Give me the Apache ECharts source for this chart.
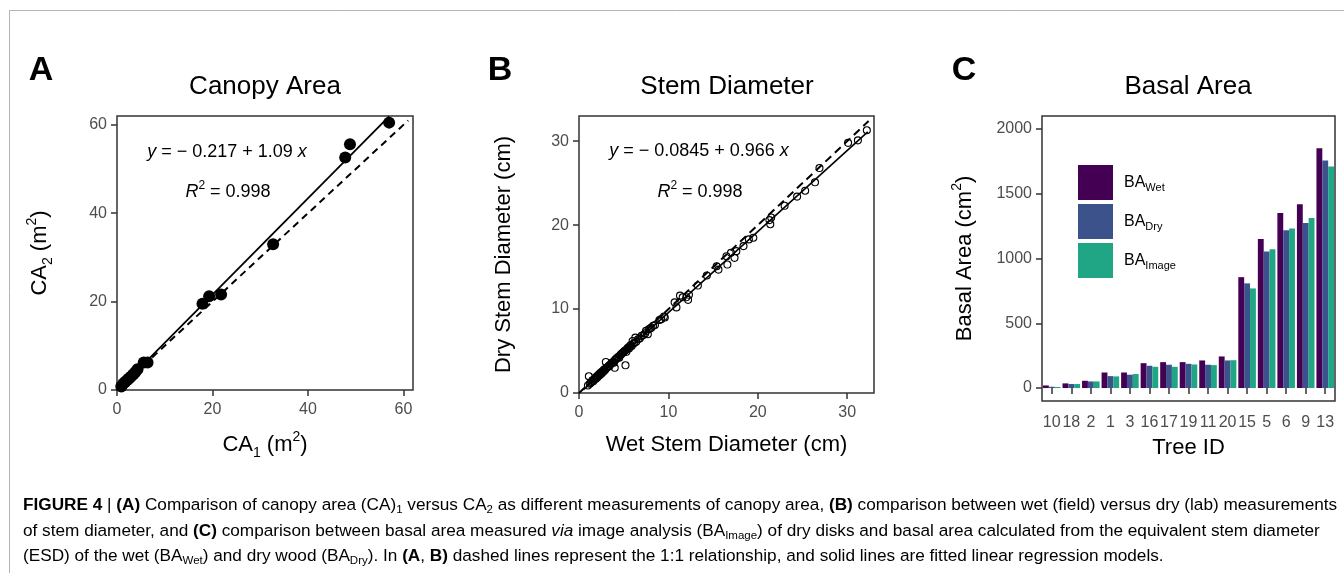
<!DOCTYPE html>
<html>
<head>
<meta charset="utf-8">
<script src="https://cdn.jsdelivr.net/npm/echarts@6/dist/echarts.min.js"></script>
<style>
  html, body { margin: 0; padding: 0; background: #fff; }
  #chart { width: 1344px; height: 573px; }
</style>
</head>
<body>
<div id="chart"></div>
<script>
// A - canopy area, two measurements (m2)
var ca1 = [57.0, 48.8, 47.8, 32.7, 21.8, 19.3, 17.9, 6.4, 5.6, 4.3, 3.8, 3.4, 2.9, 2.5, 2.1, 1.7, 1.3, 0.9];
var ca2 = [60.5, 55.6, 52.6, 33.0, 21.6, 21.2, 19.5, 6.2, 6.2, 4.7, 4.0, 3.5, 3.0, 2.6, 2.2, 1.8, 1.4, 0.8];
var caFit = [[0.5, 0.33], [57.0, 61.9]];
var caOneToOne = [[0, 0], [61, 61]];
var caTicks = [0, 20, 40, 60];

// B - wet vs dry stem diameter (cm)
var wetDiam = [1.0, 1.1, 1.2, 1.3, 1.4, 1.5, 1.6, 1.7, 1.8, 1.9, 2.0, 2.1, 2.2, 2.3, 2.4, 2.5, 2.6, 2.7, 2.8, 2.9,
  3.0, 3.0, 3.1, 3.2, 3.3, 3.4, 3.5, 3.6, 3.7, 3.8, 3.9, 4.0, 4.0, 4.1, 4.2, 4.3, 4.4, 4.5, 4.6, 4.7,
  4.8, 4.9, 5.0, 5.1, 5.2, 5.2, 5.3, 5.4, 5.5, 5.6, 5.7, 5.8, 5.9, 6.0, 6.1, 6.2, 6.3, 6.4, 6.6, 6.8,
  7.0, 7.2, 7.4, 7.5, 7.7, 7.8, 8.0, 8.1, 8.3, 8.5, 9.0, 9.2, 9.5, 9.6, 10.7, 10.9, 11.3, 11.6, 12.0, 12.2,
  12.3, 13.3, 14.3, 15.4, 15.6, 16.5, 16.6, 17.0, 17.4, 17.6, 18.4, 19.0, 19.5, 21.3, 21.4, 21.5, 23.0, 24.4, 25.3, 26.4,
  26.9, 30.1, 31.2, 32.2];
var dryDiam = [0.9, 2.0, 1.1, 1.2, 1.3, 1.5, 1.4, 1.6, 1.8, 1.7, 2.0, 1.9, 2.2, 2.1, 2.4, 2.3, 2.6, 2.5, 2.8, 2.7,
  3.7, 2.9, 3.0, 3.1, 3.2, 3.2, 3.4, 3.5, 3.6, 3.7, 3.6, 3.0, 3.9, 4.0, 4.1, 4.2, 4.3, 4.2, 4.5, 4.6,
  4.7, 4.8, 4.9, 5.0, 3.3, 5.1, 4.9, 5.3, 5.4, 5.3, 5.6, 5.7, 5.6, 6.2, 5.9, 6.0, 6.6, 6.1, 6.4, 6.5,
  6.8, 6.9, 7.1, 7.4, 7.0, 7.6, 7.7, 7.8, 8.0, 8.1, 8.7, 8.8, 9.1, 9.0, 10.8, 10.2, 11.6, 11.4, 11.4, 11.1,
  11.7, 12.8, 14.0, 15.1, 14.7, 16.3, 15.3, 16.7, 16.1, 16.9, 17.5, 18.3, 18.5, 20.6, 20.1, 20.9, 22.3, 23.4, 24.1, 25.1,
  26.8, 29.8, 30.1, 31.3];
var sdFit = [[0.5, 0.4], [32.3, 31.1]];
var sdOneToOne = [[0, 0], [32.4, 32.4]];
var sdTicks = [0, 10, 20, 30];

// C - basal area per tree (cm2)
var treeIds = ['10', '18', '2', '1', '3', '16', '17', '19', '11', '20', '15', '5', '6', '9', '13'];
var baWet = [20, 36, 56, 120, 120, 192, 200, 200, 213, 244, 856, 1151, 1351, 1418, 1851];
var baDry = [10, 31, 51, 92, 103, 172, 180, 187, 180, 213, 808, 1054, 1218, 1274, 1756];
var baImage = [8, 31, 51, 90, 108, 164, 164, 182, 177, 215, 769, 1072, 1231, 1313, 1710];
var baTicks = [0, 500, 1000, 1500, 2000];

var FONT = '"Liberation Sans", Arial, sans-serif';

function pairs(xs, ys) {
  return xs.map(function(x, i) { return [x, ys[i]] })
}

var nameRich = {
  t: { fontSize: 22, fontFamily: FONT, color: '#000', lineHeight: 30 },
  sub: { fontSize: 14, fontFamily: FONT, color: '#000', verticalAlign: 'bottom' },
  sup: { fontSize: 14, fontFamily: FONT, color: '#000', verticalAlign: 'top' }
};

function valueAxis(gridIndex, min, max, ticks, name, gap, isX) {
  return {
    type: 'value',
    gridIndex: gridIndex,
    min: min,
    max: max,
    name: name,
    nameLocation: 'middle',
    nameGap: gap,
    nameTextStyle: { rich: nameRich },
    axisLine: { show: false },
    axisTick: { show: true, length: 6, customValues: ticks, lineStyle: { color: '#333', width: 1.5 } },
    axisLabel: {
      customValues: ticks, color: '#4d4d4d', fontSize: 16, fontFamily: FONT, margin: isX ? 12 : 10,
      formatter: function(v) { return String(v) }
    },
    splitLine: { show: false }
  }
}

var eqRich = {
  n: { fontSize: 18, fontFamily: FONT, color: '#000', lineHeight: 24 },
  i: { fontSize: 18, fontFamily: FONT, color: '#000', fontStyle: 'italic', lineHeight: 24 },
  sup: { fontSize: 12, fontFamily: FONT, color: '#000', verticalAlign: 'top' }
};

var CAP = 17.2;
var capRich = {
  n: { fontSize: CAP, fontFamily: FONT, color: '#333', lineHeight: 22 },
  b: { fontSize: CAP, fontFamily: FONT, color: '#333', fontWeight: 'bold', lineHeight: 22 },
  i: { fontSize: CAP, fontFamily: FONT, color: '#333', fontStyle: 'italic', lineHeight: 22 },
  sub: { fontSize: 11.5, fontFamily: FONT, color: '#333', verticalAlign: 'bottom' }
};

function label(text, x, y, size, bold) {
  return {
    type: 'text', x: x, y: y, silent: true,
    style: { text: text, fontSize: size, fontFamily: FONT, fontWeight: bold ? 'bold' : 'normal',
      fill: '#000', align: 'center', verticalAlign: 'middle' }
  }
}

function richText(text, x, y, rich, align) {
  return {
    type: 'text', x: x, y: y, silent: true,
    style: { text: text, rich: rich, align: align || 'center', verticalAlign: 'middle' }
  }
}

var chart = echarts.init(document.getElementById('chart'));

var option = {
  animation: false,
  backgroundColor: '#fff',
  grid: [
    { left: 117, top: 116, width: 296, height: 274, show: true, borderColor: '#333', borderWidth: 1.5 },
    { left: 579, top: 116, width: 295, height: 277, show: true, borderColor: '#333', borderWidth: 1.5 },
    { left: 1042, top: 116, width: 293, height: 285, show: true, borderColor: '#333', borderWidth: 1.5 }
  ],
  xAxis: [
    valueAxis(0, 0, 62, caTicks, '{t|CA}{sub|1}{t| (m}{sup|2}{t|)}', 40, true),
    valueAxis(1, 0, 33, sdTicks, '{t|Wet Stem Diameter (cm)}', 37, true),
    {
      type: 'category',
      gridIndex: 2,
      data: treeIds,
      name: '{t|Tree ID}',
      nameLocation: 'middle',
      nameGap: 32,
      nameTextStyle: { rich: nameRich },
      axisLine: { show: false },
      axisTick: { show: true, alignWithLabel: true, length: 6, lineStyle: { color: '#333', width: 1.5 } },
      axisLabel: { interval: 0, color: '#4d4d4d', fontSize: 16, fontFamily: FONT, margin: 14 },
      splitLine: { show: false }
    }
  ],
  yAxis: [
    valueAxis(0, 0, 62, caTicks, '{t|CA}{sub|2}{t| (m}{sup|2}{t|)}', 62),
    valueAxis(1, 0, 33, sdTicks, '{t|Dry Stem Diameter (cm)}', 60),
    valueAxis(2, -100, 2100, baTicks, '{t|Basal Area (cm}{sup|2}{t|)}', 62)
  ],
  legend: {
    data: ['Wet', 'Dry', 'Image'],
    orient: 'vertical',
    left: 1073,
    top: 160,
    itemWidth: 35,
    itemHeight: 35,
    itemGap: 4,
    icon: 'rect',
    formatter: function(name) { return '{b|BA}{s|' + name + '}' },
    textStyle: {
      padding: [0, 0, 0, 6],
      rich: {
        b: { fontSize: 16, fontFamily: FONT, color: '#000', lineHeight: 22 },
        s: { fontSize: 11, fontFamily: FONT, color: '#000', verticalAlign: 'bottom' }
      }
    }
  },
  series: [
    {
      type: 'line', xAxisIndex: 0, yAxisIndex: 0, data: caOneToOne, symbol: 'none',
      lineStyle: { color: '#000', width: 2, type: [7, 5] }
    },
    {
      type: 'line', xAxisIndex: 0, yAxisIndex: 0, data: caFit, symbol: 'none',
      lineStyle: { color: '#000', width: 1.8 }
    },
    {
      type: 'scatter', xAxisIndex: 0, yAxisIndex: 0, data: pairs(ca1, ca2),
      symbolSize: 12, itemStyle: { color: '#000', opacity: 1 }
    },
    {
      type: 'line', xAxisIndex: 1, yAxisIndex: 1, data: sdOneToOne, symbol: 'none',
      lineStyle: { color: '#000', width: 2, type: [8, 5] }
    },
    {
      type: 'line', xAxisIndex: 1, yAxisIndex: 1, data: sdFit, symbol: 'none',
      lineStyle: { color: '#000', width: 1.6 }
    },
    {
      type: 'scatter', xAxisIndex: 1, yAxisIndex: 1, data: pairs(wetDiam, dryDiam),
      symbol: 'circle', symbolSize: 7,
      itemStyle: { color: 'rgba(255,255,255,0)', borderColor: '#000', borderWidth: 1.1, opacity: 1 }
    },
    {
      name: 'Wet', type: 'bar', xAxisIndex: 2, yAxisIndex: 2, data: baWet,
      barGap: '0%', barCategoryGap: '10%', itemStyle: { color: '#440154' }
    },
    {
      name: 'Dry', type: 'bar', xAxisIndex: 2, yAxisIndex: 2, data: baDry,
      barGap: '0%', barCategoryGap: '10%', itemStyle: { color: '#3B528B' }
    },
    {
      name: 'Image', type: 'bar', xAxisIndex: 2, yAxisIndex: 2, data: baImage,
      barGap: '0%', barCategoryGap: '10%', itemStyle: { color: '#21A685' }
    }
  ],
  graphic: [
    // page frame
    { type: 'line', silent: true, shape: { x1: 9, y1: 10.5, x2: 1344, y2: 10.5 }, style: { stroke: '#b4b4b4', lineWidth: 1 } },
    { type: 'line', silent: true, shape: { x1: 9.5, y1: 10, x2: 9.5, y2: 573 }, style: { stroke: '#b4b4b4', lineWidth: 1 } },
    // panel letters and titles
    label('A', 41, 71, 34, true),
    label('B', 500, 71, 34, true),
    label('C', 964, 71, 34, true),
    label('Canopy Area', 265, 87, 26),
    label('Stem Diameter', 727, 87, 26),
    label('Basal Area', 1188, 87, 26),
    // regression text
    richText('{i|y}{n| = \u2212 0.217 + 1.09 }{i|x}', 227, 152, eqRich),
    richText('{i|R}{sup|2}{n| = 0.998}', 228, 192, eqRich),
    richText('{i|y}{n| = \u2212 0.0845 + 0.966 }{i|x}', 699, 151, eqRich),
    richText('{i|R}{sup|2}{n| = 0.998}', 700, 192, eqRich),
    // caption
    richText('{b|FIGURE 4}{n| | }{b|(A)}{n| Comparison of canopy area (CA)}{sub|1}{n| versus CA}{sub|2}{n| as different measurements of canopy area, }{b|(B)}{n| comparison between wet (field) versus dry (lab) measurements}', 23, 505, capRich, 'left'),
    richText('{n|of stem diameter, and }{b|(C)}{n| comparison between basal area measured }{i|via}{n| image analysis (BA}{sub|Image}{n|) of dry disks and basal area calculated from the equivalent stem diameter}', 23, 531, capRich, 'left'),
    richText('{n|(ESD) of the wet (BA}{sub|Wet}{n|) and dry wood (BA}{sub|Dry}{n|). In }{b|(A}{n|, }{b|B)}{n| dashed lines represent the 1:1 relationship, and solid lines are fitted linear regression models.}', 23, 556, capRich, 'left')
  ]
};

chart.setOption(option);
</script>
</body>
</html>
